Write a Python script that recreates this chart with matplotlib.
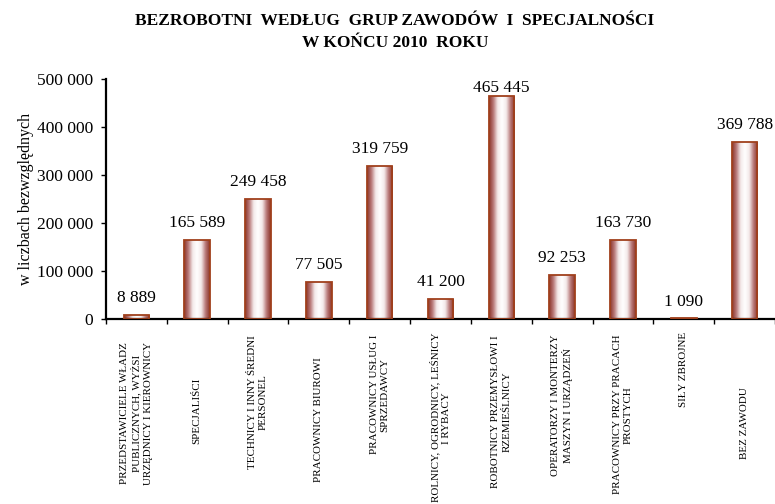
import numpy as np
import matplotlib
matplotlib.use("Agg")
from matplotlib import pyplot as plt
from matplotlib.colors import LinearSegmentedColormap
from matplotlib.patches import Rectangle
from matplotlib.transforms import blended_transform_factory

categories = [
    "PRZEDSTAWICIELE WŁADZ\nPUBLICZNYCH, WYŻSI\nURZĘDNICY I KIEROWNICY",
    "SPECJALIŚCI",
    "TECHNICY I INNY ŚREDNI\nPERSONEL",
    "PRACOWNICY BIUROWI",
    "PRACOWNICY USŁUG I\nSPRZEDAWCY",
    "ROLNICY, OGRODNICY, LEŚNICY\nI RYBACY",
    "ROBOTNICY PRZEMYSŁOWI I\nRZEMIEŚLNICY",
    "OPERATORZY I MONTERZY\nMASZYN I URZĄDZEŃ",
    "PRACOWNICY PRZY PRACACH\nPROSTYCH",
    "SIŁY ZBROJNE",
    "BEZ ZAWODU",
]
values = [8889, 165589, 249458, 77505, 319759, 41200, 465445, 92253, 163730, 1090, 369788]
yticks = [0, 100000, 200000, 300000, 400000, 500000]

# top edge (in px from figure top) of each rotated category label
label_top_px = [342, 378, 335, 357, 335, 333, 335, 335, 335, 332, 387]

W, H = 775, 504
plt.rcParams['font.family'] = ['Liberation Serif', 'DejaVu Serif']
fig = plt.figure(figsize=(W / 100, H / 100), dpi=100)
ax = fig.add_axes([106 / W, 1 - 319 / H, 1 - 106 / W, 240 / H])

edge = '#a0401c'
cmap = LinearSegmentedColormap.from_list(
    'bar', ['#8a3428', '#b87878', '#f4eaea', '#ffffff', '#f4eaea', '#b87878', '#8a3428'])
grad = np.linspace(0, 1, 256).reshape(1, -1)

n = len(values)
ax.set_xlim(-0.5, n - 0.5)
ax.set_ylim(0, 500000)
bw = 0.42
for i, v in enumerate(values):
    x0 = i - bw / 2
    im = ax.imshow(grad, cmap=cmap, aspect='auto', extent=[x0, x0 + bw, 0, v],
                   interpolation='bicubic', zorder=2)
    rect = Rectangle((x0, 0), bw, v, facecolor='none', edgecolor=edge, lw=1.3, zorder=3)
    ax.add_patch(rect)
    im.set_clip_path(rect)
    # value label, kept inside the plot area
    ytxt = min(v + 27000, 473000)
    ax.text(i, ytxt, f"{v:,}".replace(',', ' '), ha='center', va='baseline', fontsize=12.5)

ax.set_yticks(yticks)
ax.set_yticklabels([f"{t:,}".replace(',', ' ') for t in yticks], fontsize=12.5)
ax.set_xticks(np.arange(-0.5, n, 1.0))
ax.set_xticklabels([])
ax.tick_params(axis='both', direction='out', length=3.5, width=1, color='black')
ax.tick_params(axis='y', pad=6)
for s in ['top', 'right']:
    ax.spines[s].set_visible(False)
for s in ['left', 'bottom']:
    ax.spines[s].set_linewidth(1.6)
ax.set_ylabel("w liczbach bezwzględnych", fontsize=11.5, labelpad=2)

tr = blended_transform_factory(ax.transData, fig.transFigure)
for i, (lab, top) in enumerate(zip(categories, label_top_px)):
    ax.text(i, 1 - top / H, lab, rotation=90, ha='center', va='top', ma='center',
            fontsize=7.9, transform=tr, linespacing=1.25, clip_on=False)

fig.text(395 / W, 1 - 21 / H, "BEZROBOTNI  WEDŁUG  GRUP ZAWODÓW  I  SPECJALNOŚCI",
         ha='center', va='center', fontsize=12.5, fontweight='bold')
fig.text(395 / W, 1 - 43 / H, "W KOŃCU 2010  ROKU",
         ha='center', va='center', fontsize=12.5, fontweight='bold')

fig.savefig("out.png", dpi=100)
